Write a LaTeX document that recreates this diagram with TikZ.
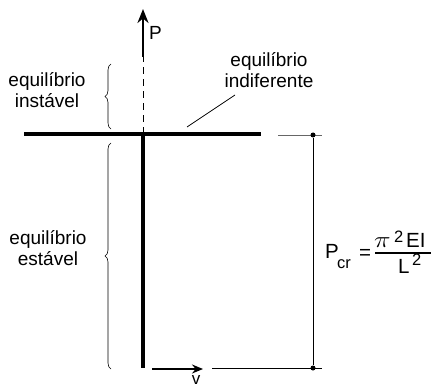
\documentclass[tikz,border=0pt]{standalone}
\usepackage{fontspec}
\setmainfont{Liberation Sans}
\usetikzlibrary{decorations.pathreplacing,arrows.meta}
\begin{document}
\begin{tikzpicture}[x=1pt,y=-1pt,
  lbl/.style={font=\fontsize{19}{21}\selectfont, align=center, inner sep=0pt},
  flbl/.style={font=\fontsize{20.5}{22}\selectfont, inner sep=0pt, anchor=base west},
  slbl/.style={font=\fontsize{16.5}{18}\selectfont, inner sep=0pt, anchor=base west},
  thickbar/.style={line width=3.5pt},
  brc/.style={decorate, decoration={brace, amplitude=6pt}, line width=0.6pt},
  thinln/.style={line width=0.8pt},
  dot/.style={circle, fill=black, inner sep=0pt, minimum size=5pt}]
\useasboundingbox (0,0) rectangle (435,387);
% structure
\coordinate (barL) at (24,134);
\coordinate (barR) at (261,134);
\coordinate (colT) at (143,134);
\coordinate (colB) at (143,368);
\draw[thickbar] (barL) -- (barR);
\draw[thickbar] (colT) -- (colB);
% load P
\coordinate (dashTop) at (143,57);
\coordinate (arrTip) at (143,9);
\draw[thinln, dash pattern=on 7pt off 5pt] (colT) -- (dashTop);
\draw[line width=2.6pt, -{Stealth[length=14pt,width=11pt]}] (dashTop) -- (arrTip);
\node[lbl, anchor=west] (P) at (149,33) {P};
% displacement v
\coordinate (vS) at (152,369);
\coordinate (vE) at (203,369);
\draw[line width=1.6pt, -{Stealth[length=11pt,width=9pt]}] (vS) -- (vE);
\node[lbl, font=\fontsize{17}{19}\selectfont] (v) at (196,380) {v};
% braces
\coordinate (b1a) at (111,129);
\coordinate (b1b) at (111,64);
\draw[brc] (b1a) -- (b1b);
\coordinate (b2a) at (111,369);
\coordinate (b2b) at (111,143);
\draw[brc] (b2a) -- (b2b);
% labels
\node[lbl] (inst) at (47,90) {equilíbrio\\instável};
\node[lbl] (est) at (48,248) {equilíbrio\\estável};
\node[lbl] (ind) at (269,70) {equilíbrio\\indiferente};
\coordinate (leadA) at (187,127);
\coordinate (leadB) at (235,95);
\draw[thinln] (leadA) -- (leadB);
% dimension
\coordinate (eT1) at (278,135);
\coordinate (eT2) at (322,135);
\coordinate (eB1) at (212,368);
\coordinate (eB2) at (322,368);
\draw[thinln, black!60] (eT1) -- (eT2);
\draw[thinln] (eB1) -- (eB2);
\node[dot] (dT) at (313,135) {};
\node[dot] (dB) at (313,368) {};
\draw[thinln] (dT) -- (dB);
% formula
\node[flbl] (Pf) at (325,258) {P};
\node[slbl] (cr) at (337,268) {cr};
\node[flbl] (eq) at (359,259) {=};
\coordinate (fracL) at (375,253);
\coordinate (fracR) at (431,253);
\draw[line width=1.2pt] (fracL) -- (fracR);
\node[flbl] (pi) at (374,247) {\scalebox{1.35}[1.1]{$\pi$}};
\node[slbl] (n2) at (394,242) {2};
\node[flbl] (EI) at (406,247) {EI};
\node[flbl] (L) at (398,273) {L};
\node[slbl] (d2) at (412,265) {2};
\end{tikzpicture}
\end{document}
